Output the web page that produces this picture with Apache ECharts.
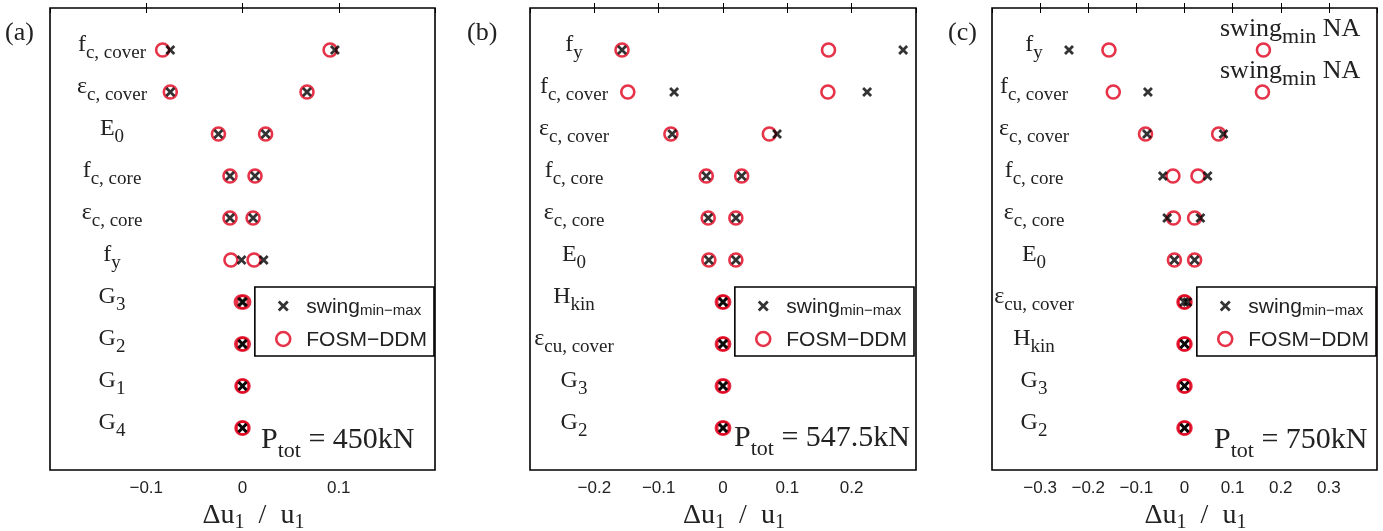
<!DOCTYPE html>
<html>
<head>
<meta charset="utf-8">
<script src="https://cdn.jsdelivr.net/npm/echarts@6/dist/echarts.min.js"></script>
<style>html,body{margin:0;padding:0;background:#fff}#c{width:1383px;height:531px}</style>
</head>
<body>
<div id="c"></div>
<script>
// ---------- data ----------
const catsA = ['{b|f}{s|c, cover}', '{b|ε}{s|c, cover}', '{b|E}{s|0}', '{b|f}{s|c, core}', '{b|ε}{s|c, core}', '{b|f}{s|y}', '{b|G}{s|3}', '{b|G}{s|2}', '{b|G}{s|1}', '{b|G}{s|4}'];
const fosmLoA  = [-0.083, -0.075, -0.025, -0.013, -0.013, -0.012, -0.0012, -0.0008, -0.0005, -0.0005];
const fosmHiA  = [ 0.091,  0.067,  0.024,  0.013,  0.011,  0.012,  0.0012,  0.0008,  0.0005,  0.0005];
const swingLoA = [-0.075, -0.075, -0.025, -0.013, -0.013, -0.001, -0.0005, -0.0003, 0, 0];
const swingHiA = [ 0.096,  0.067,  0.024,  0.013,  0.011,  0.022,  0.0005,  0.0003, 0, 0];

const catsB = ['{b|f}{s|y}', '{b|f}{s|c, cover}', '{b|ε}{s|c, cover}', '{b|f}{s|c, core}', '{b|ε}{s|c, core}', '{b|E}{s|0}', '{b|H}{s|kin}', '{b|ε}{s|cu, cover}', '{b|G}{s|3}', '{b|G}{s|2}'];
const fosmLoB  = [-0.157, -0.148, -0.081, -0.026, -0.023, -0.022, -0.001, -0.001, -0.001, -0.001];
const fosmHiB  = [ 0.164,  0.163,  0.072,  0.029,  0.020,  0.020,  0.001,  0.001,  0.001,  0.001];
const swingLoB = [-0.157, -0.076, -0.079, -0.026, -0.023, -0.022, 0, 0, 0, 0];
const swingHiB = [ 0.280,  0.224,  0.084,  0.029,  0.020,  0.020, 0, 0, 0, 0];

const catsC = ['{b|f}{s|y}', '{b|f}{s|c, cover}', '{b|ε}{s|c, cover}', '{b|f}{s|c, core}', '{b|ε}{s|c, core}', '{b|E}{s|0}', '{b|ε}{s|cu, cover}', '{b|H}{s|kin}', '{b|G}{s|3}', '{b|G}{s|2}'];
const fosmLoC  = [-0.157, -0.148, -0.081, -0.024, -0.023, -0.021, -0.001, -0.001, -0.001, -0.001];
const fosmHiC  = [ 0.164,  0.162,  0.071,  0.028,  0.021,  0.021,  0.001,  0.001,  0.001,  0.001];
const swingLoC = [-0.240, -0.076, -0.078, -0.045, -0.036, -0.021, -0.001, 0, 0, 0];
const swingHiC = [  null,   null,  0.081,  0.048,  0.033,  0.021,  0.006, 0, 0, 0];

const xMaxA = 0.2, xMaxB = 0.3, xMaxC = 0.4;
const panelTitles = ['(a)', '(b)', '(c)'];
const loadLabels = ['{b|P}{s|tot}{b| = 450kN}', '{b|P}{s|tot}{b| = 547.5kN}', '{b|P}{s|tot}{b| = 750kN}'];
const naLabel = '{b|swing}{s|min}{b| NA}';
const xName = 'Δu{s|1}\u2002/\u2002u{s|1}';

// ---------- styles ----------
const SERIF = "'Liberation Serif','DejaVu Serif',serif";
const SANS = "'Liberation Sans',Arial,sans-serif";
const RED = '#e0001b';
const CROSS = 'path://M0,0L10,10M10,0L0,10';
const CROSS_ICON = 'path://M0,0M2.5,2.5L11.5,11.5M11.5,2.5L2.5,11.5M14,14';

const panels = [
  {cats: catsA, fl: fosmLoA, fh: fosmHiA, sl: swingLoA, sh: swingHiA, max: xMaxA, left: 50, width: 385, labOff: 62, legRight: 949},
  {cats: catsB, fl: fosmLoB, fh: fosmHiB, sl: swingLoB, sh: swingHiB, max: xMaxB, left: 530, width: 386, labOff: 44, legRight: 469},
  {cats: catsC, fl: fosmLoC, fh: fosmHiC, sl: swingLoC, sh: swingHiC, max: xMaxC, left: 992, width: 385, labOff: 42, legRight: 7}
];

function pts(lo, hi) {
  const d = [];
  lo.forEach((v, i) => { if (v != null) d.push([v, i + 1]); });
  hi.forEach((v, i) => { if (v != null) d.push([v, i + 1]); });
  return d;
}
function fmt(v) {
  if (Math.abs(v) < 1e-9) return '0';
  return (v < 0 ? '\u2212' : '') + Math.abs(v).toFixed(1);
}

const labRich = {
  b: {fontFamily: SERIF, fontSize: 24, color: '#222', lineHeight: 26, padding: [0, 0, 6, 0], verticalAlign: 'bottom'},
  s: {fontFamily: SERIF, fontSize: 19, color: '#222', lineHeight: 19, verticalAlign: 'bottom'}
};

const grid = [], xAxis = [], yAxis = [], series = [], legend = [], graphic = [];
panels.forEach((p, k) => {
  grid.push({left: p.left, width: p.width, top: 8, height: 462, show: true, borderColor: '#000', borderWidth: 1.6,
    backgroundColor: 'transparent', containLabel: false, outerBoundsMode: 'none'});
  xAxis.push({
    type: 'value', gridIndex: k, min: -p.max, max: p.max, interval: 0.1, position: 'bottom',
    axisLine: {show: false}, splitLine: {show: false},
    axisTick: {show: true, inside: true, length: 5, lineStyle: {color: '#000', width: 1}},
    axisLabel: {showMinLabel: false, showMaxLabel: false, formatter: fmt, fontFamily: SANS, fontSize: 17, color: '#222', margin: 10},
    name: xName, nameLocation: 'middle', nameGap: 29,
    nameTextStyle: {fontFamily: SERIF, fontSize: 28, color: '#222', padding: [0, 0, 0, 22],
      rich: {s: {fontFamily: SERIF, fontSize: 20, color: '#222', padding: [13, 0, 0, 0]}}}
  });
  xAxis.push({
    type: 'value', gridIndex: k, min: -p.max, max: p.max, interval: 0.1, position: 'top',
    axisLine: {show: false}, splitLine: {show: false},
    axisTick: {show: true, inside: true, length: 5, lineStyle: {color: '#000', width: 1}},
    axisLabel: {show: false}
  });
  yAxis.push({
    type: 'value', gridIndex: k, min: 0, max: 11, interval: 1, inverse: true,
    axisLine: {show: false}, axisTick: {show: false}, splitLine: {show: false},
    axisLabel: {inside: true, align: 'center', margin: p.labOff, showMinLabel: false, showMaxLabel: false,
      formatter: v => p.cats[v - 1] || '', rich: labRich}
  });
  series.push({
    name: 'FOSM-DDM', type: 'scatter', xAxisIndex: 2 * k, yAxisIndex: k,
    symbol: 'circle', symbolSize: 13,
    itemStyle: {color: 'rgba(255,255,255,0)', borderColor: RED, borderWidth: 2.6},
    data: pts(p.fl, p.fh), z: 2
  });
  series.push({
    name: 'swing', type: 'scatter', xAxisIndex: 2 * k, yAxisIndex: k,
    symbol: CROSS, symbolSize: 8,
    itemStyle: {color: 'rgba(0,0,0,0)', borderColor: '#000', borderWidth: 2.8},
    data: pts(p.sl, p.sh), z: 3
  });
  legend.push({
    data: [
      {name: 'swing', icon: CROSS_ICON, itemStyle: {color: 'rgba(0,0,0,0)', borderColor: '#000', borderWidth: 2.8}},
      {name: 'FOSM-DDM', icon: 'circle', itemStyle: {color: 'rgba(255,255,255,0)', borderColor: RED, borderWidth: 2.6}}
    ],
    orient: 'vertical', right: p.legRight, top: 287,
    backgroundColor: '#fff', borderColor: '#000', borderWidth: 1.6,
    padding: [10, 7, 5, 20], itemGap: 12, itemWidth: 14, itemHeight: 14,
    selectedMode: false,
    formatter: n => n === 'swing' ? '{a|swing}{s|min\u2212max}' : '{a|FOSM\u2212DDM}',
    textStyle: {rich: {
      a: {fontFamily: SANS, fontSize: 21, color: '#222', lineHeight: 24, padding: [0, 0, 0, 11], verticalAlign: 'bottom'},
      s: {fontFamily: SANS, fontSize: 15, color: '#222', lineHeight: 16, padding: [0, 0, 0, 0], verticalAlign: 'bottom'}
    }}
  });
});

const ptRich = {
  b: {fontFamily: SERIF, fontSize: 30, fill: '#222', lineHeight: 31, padding: [0, 0, 7, 0], verticalAlign: 'bottom'},
  s: {fontFamily: SERIF, fontSize: 22, fill: '#222', lineHeight: 23, verticalAlign: 'bottom'}
};
[[5, 20], [467, 20], [948, 20]].forEach((pos, k) => {
  graphic.push({type: 'text', left: pos[0], top: pos[1], z: 10,
    style: {text: panelTitles[k], font: '26px ' + SERIF, fill: '#222'}});
});
[[261, 425], [734, 423], [1214, 425]].forEach((pos, k) => {
  graphic.push({type: 'text', left: pos[0], top: pos[1], z: 10,
    style: {text: loadLabels[k], rich: ptRich, fill: '#222'}});
});
const naRich = {
  b: {fontFamily: SERIF, fontSize: 26, fill: '#222', lineHeight: 28, padding: [0, 0, 6, 0], verticalAlign: 'bottom'},
  s: {fontFamily: SERIF, fontSize: 22, fill: '#222', lineHeight: 22, verticalAlign: 'bottom'}
};
[[1220, 16], [1220, 58]].forEach(pos => {
  graphic.push({type: 'text', left: pos[0], top: pos[1], z: 10,
    style: {text: naLabel, rich: naRich, fill: '#222'}});
});

const chart = echarts.init(document.getElementById('c'), null, {renderer: 'canvas'});
chart.setOption({animation: false, grid, xAxis, yAxis, series, legend, graphic});
</script>
</body>
</html>
